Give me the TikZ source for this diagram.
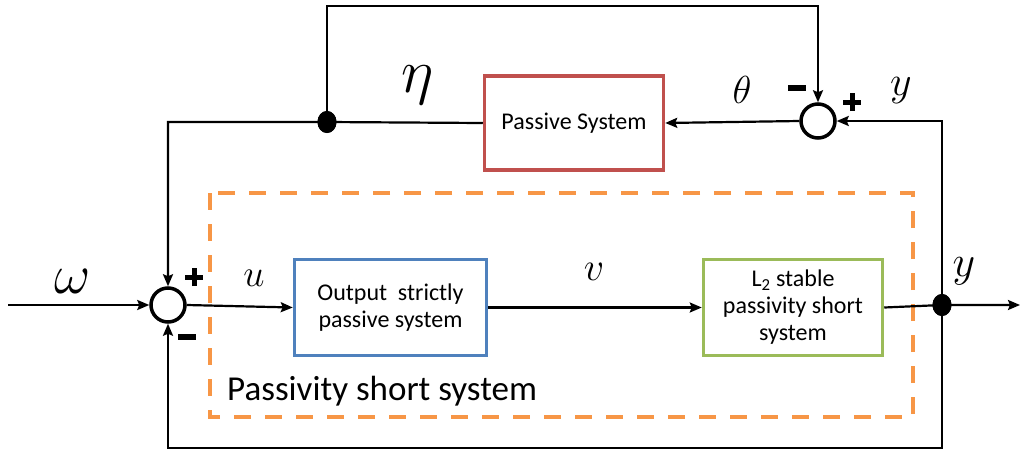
\RequirePackage{fix-cm}
\documentclass[tikz,border=0pt]{standalone}
\usepackage{fontspec}
\setmainfont{Carlito}
\usetikzlibrary{arrows.meta,shapes.geometric}
\definecolor{boxblue}{HTML}{4F81BD}
\definecolor{boxred}{HTML}{C0504D}
\definecolor{boxgreen}{HTML}{9BBB59}
\definecolor{dashorange}{HTML}{F79646}
\newcommand{\plussign}{\makebox[18pt]{\rlap{\raisebox{6.5pt}{\rule{18pt}{5pt}}}\hspace{6.5pt}\rule{5pt}{18pt}\hspace{6.5pt}}}
\newcommand{\minussign}{\rule{18pt}{5.5pt}}
\tikzset{
  conn/.style={line width=2.2pt, draw=black},
  arr/.style={conn, -{Stealth[length=12pt,width=10pt,inset=2pt]}},
  sumnode/.style={circle, draw=black, line width=3.5pt, minimum size=34pt, inner sep=0pt},
  dotnode/.style={ellipse, fill=black, minimum width=19pt, minimum height=22pt, inner sep=0pt},
  blockbox/.style={rectangle, line width=3.5pt, fill=white, align=center, inner sep=0pt,
                   font=\fontsize{24}{27}\selectfont},
  mathlbl/.style={inner sep=0pt},
  signlbl/.style={inner sep=0pt},
  groupbox/.style={draw=dashorange, line width=4pt, dash pattern=on 17pt off 14pt},
}
\begin{document}
\begin{tikzpicture}[x=1pt,y=-1pt]
\useasboundingbox (0,0) rectangle (1021,453);
% dashed group box
\draw[groupbox] (210,193) rectangle (913,417);
\node[anchor=base west, inner sep=0pt, font=\fontsize{35}{35}\selectfont] (grouplbl) at (227,400) {Passivity short system};
% blocks
\node[blockbox, draw=boxblue, minimum width=192pt, minimum height=96pt] (blue) at (390.5,307.5) {Output\ \ strictly\\passive system};
\node[blockbox, draw=boxgreen, minimum width=179pt, minimum height=96pt] (green) at (793,307.5) {L\textsubscript{2} stable\\passivity short\\system};
\node[blockbox, draw=boxred, minimum width=179pt, minimum height=94pt] (red) at (574,123) {Passive System};
% summing junctions
\node[sumnode] (sum1) at (168,305) {};
\node[sumnode] (sum2) at (818,121) {};
% branch dots
\node[dotnode] (dot1) at (942,305) {};
\node[dotnode] (dot2) at (327,122) {};
% coordinates
\coordinate (in) at (8,305);
\coordinate (out) at (1020,305);
\coordinate (botR) at (942,448);
\coordinate (botL) at (168,448);
\coordinate (topL) at (327,6);
\coordinate (topR) at (818,6);
\coordinate (leftC) at (168,122);
% connectors
\draw[arr] (in) -- (sum1.west);
\draw[arr] (sum1.east) -- (blue.west);
\draw[arr] (blue.east) -- (green.west);
\draw[arr] (green.east) -- (dot1.center) -- (out);
\draw[arr] (dot1.center) -- (botR) -- (botL) -- (sum1.south);
\draw[arr] (dot1.center) |- (sum2.east);
\draw[arr] (sum2.west) -- (red.east);
\draw[arr] (red.west) -- (dot2.center) -- (leftC) -- (sum1.north);
\draw[arr] (dot2.center) -- (topL) -- (topR) -- (sum2.north);
% redraw dots on top
\node[dotnode] at (dot1) {};
\node[dotnode] at (dot2) {};
% math labels
\node[mathlbl] (lomega) at (73,281) {\fontsize{56}{60}\selectfont$\omega$};
\node[mathlbl] (lu) at (254,278) {\fontsize{38}{40}\selectfont$u$};
\node[mathlbl] (lv) at (594,272) {\fontsize{40}{44}\selectfont$v$};
\node[mathlbl] (leta) at (418,85) {\fontsize{62}{66}\selectfont$\eta$};
\node[mathlbl] (ltheta) at (742,90) {\fontsize{39}{42}\selectfont$\theta$};
\node[mathlbl] (lytop) at (901,91) {\fontsize{42}{44}\selectfont$y$};
\node[mathlbl] (lyright) at (964,271) {\fontsize{44}{46}\selectfont$y$};
% signs
\node[signlbl] (p1) at (194,277) {\plussign};
\node[signlbl] (m1) at (187,337) {\minussign};
\node[signlbl] (m2) at (797,88) {\minussign};
\node[signlbl] (p2) at (852,102) {\plussign};
\end{tikzpicture}
\end{document}
